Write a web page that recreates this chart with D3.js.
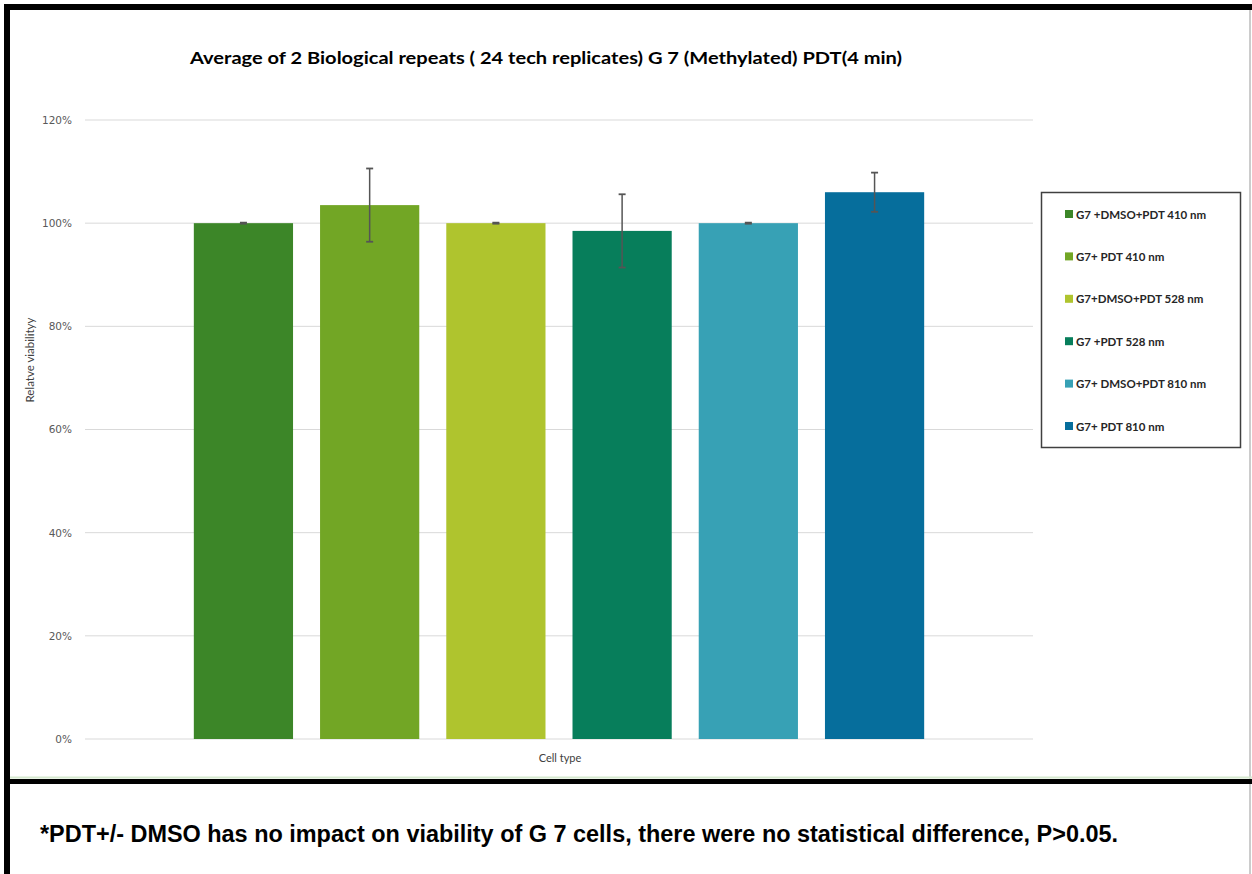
<!DOCTYPE html>
<html><head><meta charset="utf-8">
<script src="https://cdn.jsdelivr.net/npm/d3@7"></script>
<style>body{margin:0;background:#fff}svg{display:block}</style>
</head><body>
<script>
const categories = ["Cell type"];
const seriesNames = ["G7 +DMSO+PDT 410 nm","G7+ PDT 410 nm","G7+DMSO+PDT 528 nm","G7 +PDT 528 nm","G7+ DMSO+PDT 810 nm","G7+ PDT 810 nm"];
const seriesValues = [1.00, 1.035, 1.00, 0.985, 1.00, 1.06];
const seriesErrors = [0.001, 0.071, 0.001, 0.071, 0.001, 0.038];
const seriesColors = ["#3c8628","#72a625","#afc42e","#077e5b","#37a1b5","#066e9c"];
const yTicks = [0,0.2,0.4,0.6,0.8,1.0,1.2];

const W=1252,H=874;
const svg=d3.select("body").append("svg").attr("width",W).attr("height",H);

// frame
svg.append("line").attr("x1",1250).attr("x2",1250).attr("y1",8).attr("y2",H).attr("stroke","#bbb").attr("stroke-width",1.5);
svg.append("line").attr("x1",8).attr("x2",W).attr("y1",777.5).attr("y2",777.5).attr("stroke","#d6e9cf").attr("stroke-width",2);
svg.append("line").attr("x1",4).attr("x2",W).attr("y1",781.5).attr("y2",781.5).attr("stroke","#000").attr("stroke-width",5);
svg.append("line").attr("x1",4).attr("x2",W).attr("y1",7).attr("y2",7).attr("stroke","#000").attr("stroke-width",6);
svg.append("line").attr("x1",7).attr("x2",7).attr("y1",4).attr("y2",H).attr("stroke","#000").attr("stroke-width",6);

const x0=d3.scaleBand().domain(categories).range([85,1033]).paddingInner(0).paddingOuter(0.149);
const x1=d3.scaleBand().domain(seriesNames).range([0,x0.bandwidth()]).paddingInner(0.214).paddingOuter(0);
const y=d3.scaleLinear().domain([0,1.2]).range([739,120]);

// grid
svg.append("g").selectAll("line").data(yTicks).join("line")
 .attr("x1",85).attr("x2",1033).attr("y1",d=>y(d)).attr("y2",d=>y(d))
 .attr("stroke","#d9d9d9").attr("stroke-width",1);

const yAxis=svg.append("g").attr("transform","translate(85,0)")
 .call(d3.axisLeft(y).tickValues(yTicks).tickFormat(d3.format(".0%")).tickSize(0).tickPadding(13));
yAxis.select(".domain").remove();
yAxis.selectAll("text").attr("font-family","'DejaVu Sans',sans-serif").attr("font-size",10.5).attr("fill","#595959");

// bars
const g=svg.append("g").selectAll("g").data(categories).join("g").attr("transform",d=>`translate(${x0(d)},0)`);
const data=seriesNames.map((s,i)=>({s,v:seriesValues[i],e:seriesErrors[i],c:seriesColors[i]}));
g.selectAll("rect").data(data).join("rect")
 .attr("x",d=>x1(d.s)).attr("width",x1.bandwidth())
 .attr("y",d=>y(d.v)).attr("height",d=>y(0)-y(d.v)).attr("fill",d=>d.c);
// error bars
const eb=g.selectAll("g.err").data(data).join("g").attr("class","err");
eb.append("line").attr("x1",d=>x1(d.s)+x1.bandwidth()/2).attr("x2",d=>x1(d.s)+x1.bandwidth()/2)
 .attr("y1",d=>y(d.v+d.e)).attr("y2",d=>y(d.v-d.e)).attr("stroke","#555").attr("stroke-width",1.5);
eb.selectAll("line.cap").data(d=>[{d,t:d.v+d.e},{d,t:d.v-d.e}]).join("line").attr("class","cap")
 .attr("x1",o=>x1(o.d.s)+x1.bandwidth()/2-3.5).attr("x2",o=>x1(o.d.s)+x1.bandwidth()/2+3.5)
 .attr("y1",o=>y(o.t)).attr("y2",o=>y(o.t)).attr("stroke","#555").attr("stroke-width",1.8);

// title
svg.append("text").attr("x",546).attr("y",64).attr("text-anchor","middle")
 .attr("font-family","Lato,'Open Sans',sans-serif").attr("font-weight","bold").attr("font-size",17)
 .attr("textLength",712).attr("lengthAdjust","spacingAndGlyphs")
 .text("Average of 2 Biological repeats ( 24 tech replicates) G 7 (Methylated) PDT(4 min)");

// axis titles
svg.append("text").attr("x",560).attr("y",762).attr("text-anchor","middle")
 .attr("font-family","Lato,sans-serif").attr("font-size",11).attr("fill","#404040").text(categories[0]);
svg.append("text").attr("transform","translate(34,360) rotate(-90)").attr("text-anchor","middle")
 .attr("font-family","Lato,sans-serif").attr("font-size",11.5).attr("fill","#404040").text("Relatve viabilityy");

// legend
svg.append("rect").attr("x",1041.5).attr("y",192.5).attr("width",199).attr("height",255)
 .attr("fill","#fff").attr("stroke","#404040").attr("stroke-width",1.5);
const lg=svg.append("g").selectAll("g").data(data).join("g")
 .attr("transform",(d,i)=>`translate(1065,${214+i*42.4})`);
lg.append("rect").attr("x",0).attr("y",-4).attr("width",8).attr("height",8).attr("fill",d=>d.c);
lg.append("text").attr("x",11).attr("y",4.5).attr("font-family","Lato,sans-serif").attr("font-weight","bold")
 .attr("font-size",11.5).attr("fill","#262626").text(d=>d.s);

// footnote
svg.append("text").attr("x",40).attr("y",842)
 .attr("font-family","'Liberation Sans',Arial,sans-serif").attr("font-weight","bold").attr("font-size",23.5)
 .attr("textLength",1078).attr("lengthAdjust","spacingAndGlyphs")
 .text("*PDT+/- DMSO has no impact on viability of G 7 cells, there were no statistical difference, P>0.05.");
</script>
</body></html>
